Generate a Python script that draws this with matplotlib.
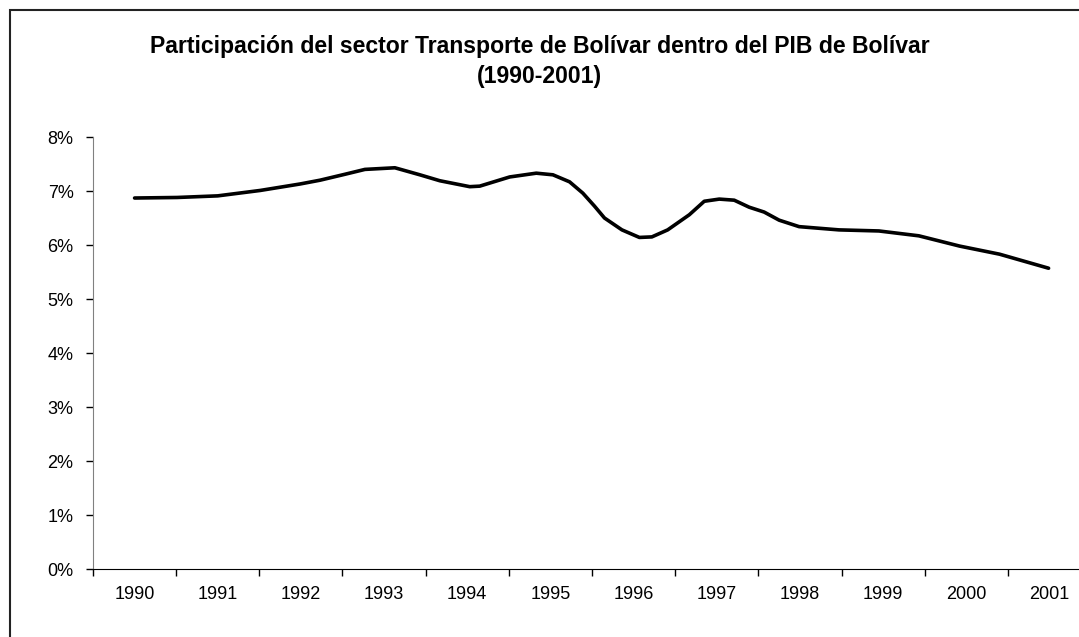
import matplotlib.pyplot as plt
from matplotlib.patches import Rectangle
from matplotlib.ticker import FuncFormatter, MultipleLocator, FixedLocator

plt.rcParams['font.family'] = ['Liberation Sans', 'DejaVu Sans']

years = [str(y) for y in range(1990, 2002)]

# position along the year axis (0 = 1990) and share of GDP (%)
position = [0.00, 0.51, 1.00, 1.51, 1.99, 2.23, 2.53, 2.77, 3.13, 3.43,
            3.67, 4.03, 4.15, 4.51, 4.83, 5.03, 5.23, 5.39, 5.53, 5.65,
            5.86, 6.07, 6.22, 6.41, 6.67, 6.85, 7.03, 7.21, 7.39, 7.57,
            7.75, 7.99, 8.47, 8.95, 9.43, 9.92, 10.40, 10.99]
share = [6.87, 6.88, 6.91, 7.01, 7.13, 7.20, 7.31, 7.40, 7.43, 7.30,
         7.19, 7.08, 7.09, 7.26, 7.33, 7.30, 7.17, 6.96, 6.72, 6.50,
         6.28, 6.14, 6.15, 6.28, 6.56, 6.81, 6.85, 6.83, 6.70, 6.61,
         6.46, 6.34, 6.28, 6.26, 6.17, 5.98, 5.83, 5.57]

W, H = 1079, 637
fig = plt.figure(figsize=(W / 100, H / 100), dpi=100)

# chart-area border
fig.add_artist(Rectangle((10 / W, -0.1), 1.2, 1 - 10 / H + 0.1, transform=fig.transFigure,
                         fill=False, edgecolor='#222222', linewidth=1.5))

ax = fig.add_axes([93 / W, 68 / H, (1091 - 93) / W, (569 - 137) / H])
ax.plot(position, share, color='black', linewidth=2.6, solid_joinstyle='round',
        solid_capstyle='round')

ax.set_xlim(-0.5, 11.5)
ax.set_ylim(0, 8)

ax.yaxis.set_major_locator(MultipleLocator(1))
ax.yaxis.set_major_formatter(FuncFormatter(lambda v, _: f'{v:.0f}%'))

ax.xaxis.set_major_locator(FixedLocator([i - 0.5 for i in range(13)]))
ax.xaxis.set_major_formatter(FuncFormatter(lambda v, _: ''))
ax.xaxis.set_minor_locator(FixedLocator(range(12)))
ax.set_xticks(range(12), years, minor=True)
ax.tick_params(axis='x', which='minor', length=0, pad=12, labelsize=13)
ax.tick_params(axis='x', which='major', length=5, width=1, direction='out')
ax.tick_params(axis='y', length=5, width=1, direction='out', pad=9, labelsize=13)

for side in ['top', 'right']:
    ax.spines[side].set_visible(False)
ax.spines['left'].set_color('#808080')
ax.spines['bottom'].set_color('black')

fig.text(0.5, 1 - 47 / H, 'Participación del sector Transporte de Bolívar dentro del PIB de Bolívar',
         ha='center', va='center', fontsize=16.6, fontweight='bold')
fig.text(0.5, 1 - 77 / H, '(1990-2001)', ha='center', va='center',
         fontsize=16.6, fontweight='bold')

fig.savefig('out.png', dpi=100)
